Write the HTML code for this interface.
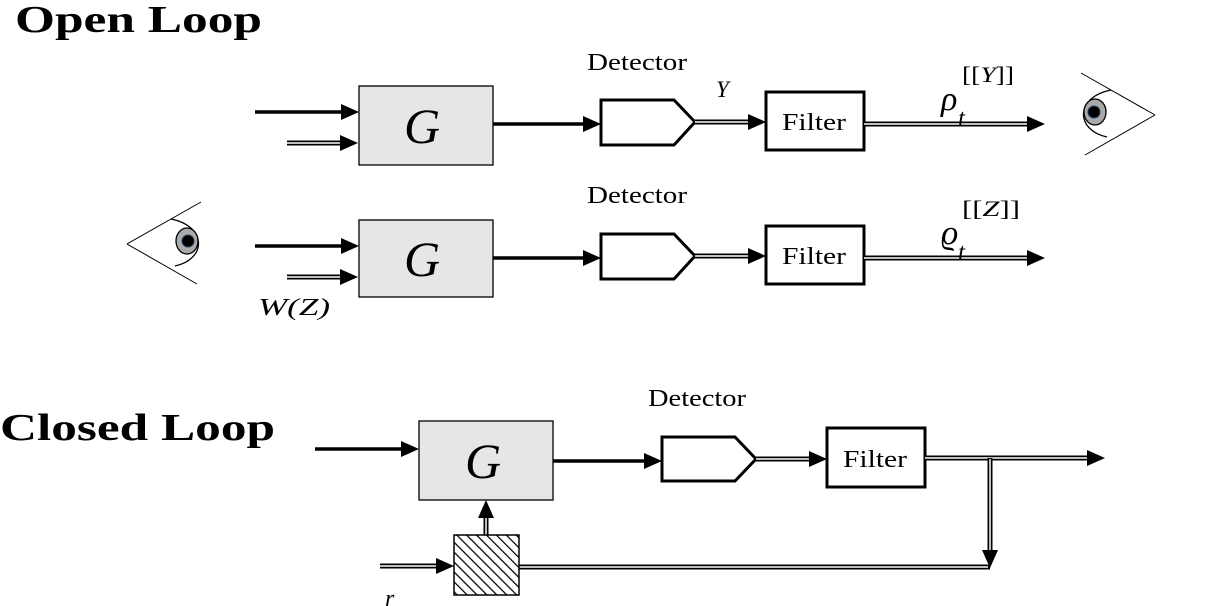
<!DOCTYPE html>
<html><head><meta charset="utf-8"><style>body{margin:0;background:#fff}svg{display:block}</style></head><body>
<svg width="1210" height="606" viewBox="0 0 1210 606" xmlns="http://www.w3.org/2000/svg" font-family="Liberation Serif, serif">
<defs>
<pattern id="h" width="7" height="7" patternUnits="userSpaceOnUse" patternTransform="rotate(-45)"><rect width="7" height="7" fill="#fff"/><line x1="0" y1="0" x2="0" y2="7" stroke="#000" stroke-width="2.5"/></pattern>
<g id="eye"><path d="M0,0 L-74,-42 M0,0 L-70,40" stroke="#000" stroke-width="1" fill="none"/><path d="M-44,-25 C-80,-18 -80,15 -48,22" stroke="#000" stroke-width="1.3" fill="none"/><ellipse cx="-60" cy="-3" rx="11" ry="13" fill="#aaa" stroke="#000" stroke-width="1.3"/><circle cx="-61" cy="-3" r="6" fill="#000" stroke="#246" stroke-width="1"/></g>
</defs>
<g font-weight="bold" font-size="38"><text x="15" y="32" textLength="247" lengthAdjust="spacingAndGlyphs">Open Loop</text><text x="0" y="440" textLength="275" lengthAdjust="spacingAndGlyphs">Closed Loop</text></g>
<g stroke="#000" fill="none">
<!-- row1 -->
<rect x="359" y="86" width="134" height="79" fill="#e6e6e6" stroke-width="1.3"/>
<line x1="255" y1="112" x2="345" y2="112" stroke-width="3.5"/><path d="M341,104 L359,112 L341,120z" fill="#000" stroke="none"/>
<line x1="287" y1="143" x2="350" y2="143" stroke-width="5"/><line x1="287" y1="143" x2="352" y2="143" stroke="#fff" stroke-width="1.5"/><path d="M340,135 L358,143 L340,151z" fill="#000" stroke="none"/>
<line x1="493" y1="124" x2="590" y2="124" stroke-width="3.5"/><path d="M583,116 L601,124 L583,132z" fill="#000" stroke="none"/>
<path d="M601,100 L674,100 L695,122 L674,145 L601,145z" stroke-width="3" fill="#fff"/>
<line x1="695" y1="122" x2="755" y2="122" stroke-width="5"/><line x1="695" y1="122" x2="757" y2="122" stroke="#fff" stroke-width="1.5"/><path d="M748,114 L766,122 L748,130z" fill="#000" stroke="none"/>
<rect x="766" y="92" width="98" height="58" stroke-width="3" fill="#fff"/>
<line x1="864" y1="124" x2="1035" y2="124" stroke-width="5"/><line x1="864" y1="124" x2="1036" y2="124" stroke="#fff" stroke-width="1.5"/><path d="M1027,116 L1045,124 L1027,132z" fill="#000" stroke="none"/>
<!-- row2 -->
<rect x="359" y="220" width="134" height="77" fill="#e6e6e6" stroke-width="1.3"/>
<line x1="255" y1="246" x2="345" y2="246" stroke-width="3.5"/><path d="M341,238 L359,246 L341,254z" fill="#000" stroke="none"/>
<line x1="287" y1="277" x2="350" y2="277" stroke-width="5"/><line x1="287" y1="277" x2="352" y2="277" stroke="#fff" stroke-width="1.5"/><path d="M340,269 L358,277 L340,285z" fill="#000" stroke="none"/>
<line x1="493" y1="258" x2="590" y2="258" stroke-width="3.5"/><path d="M583,250 L601,258 L583,266z" fill="#000" stroke="none"/>
<path d="M601,234 L674,234 L695,256 L674,279 L601,279z" stroke-width="3" fill="#fff"/>
<line x1="695" y1="256" x2="755" y2="256" stroke-width="5"/><line x1="695" y1="256" x2="757" y2="256" stroke="#fff" stroke-width="1.5"/><path d="M748,248 L766,256 L748,264z" fill="#000" stroke="none"/>
<rect x="766" y="226" width="98" height="58" stroke-width="3" fill="#fff"/>
<line x1="864" y1="258" x2="1035" y2="258" stroke-width="5"/><line x1="864" y1="258" x2="1036" y2="258" stroke="#fff" stroke-width="1.5"/><path d="M1027,250 L1045,258 L1027,266z" fill="#000" stroke="none"/>
<!-- closed -->
<rect x="419" y="421" width="134" height="79" fill="#e6e6e6" stroke-width="1.3"/>
<line x1="315" y1="449" x2="405" y2="449" stroke-width="3.5"/><path d="M401,441 L419,449 L401,457z" fill="#000" stroke="none"/>
<line x1="553" y1="461" x2="650" y2="461" stroke-width="3.5"/><path d="M644,453 L662,461 L644,469z" fill="#000" stroke="none"/>
<path d="M662,437 L735,437 L756,459 L735,481 L662,481z" stroke-width="3" fill="#fff"/>
<line x1="756" y1="459" x2="816" y2="459" stroke-width="5"/><line x1="756" y1="459" x2="818" y2="459" stroke="#fff" stroke-width="1.5"/><path d="M809,451 L827,459 L809,467z" fill="#000" stroke="none"/>
<rect x="827" y="428" width="98" height="59" stroke-width="3" fill="#fff"/>
<line x1="925" y1="458" x2="1095" y2="458" stroke-width="5"/><line x1="925" y1="458" x2="1097" y2="458" stroke="#fff" stroke-width="1.5"/><path d="M1087,450 L1105,458 L1087,466z" fill="#000" stroke="none"/>
<line x1="990" y1="458" x2="990" y2="558" stroke-width="5"/><line x1="990" y1="459" x2="990" y2="560" stroke="#fff" stroke-width="1.5"/><path d="M982,550 L990,568 L998,550z" fill="#000" stroke="none"/>
<line x1="519" y1="567" x2="990" y2="567" stroke-width="5"/><line x1="519" y1="567" x2="988" y2="567" stroke="#fff" stroke-width="1.5"/>
<line x1="380" y1="566" x2="445" y2="566" stroke-width="5"/><line x1="380" y1="566" x2="447" y2="566" stroke="#fff" stroke-width="1.5"/><path d="M436,558 L454,566 L436,574z" fill="#000" stroke="none"/>
<line x1="486" y1="535" x2="486" y2="510" stroke-width="5"/><line x1="486" y1="535" x2="486" y2="508" stroke="#fff" stroke-width="1.5"/><path d="M478,518 L486,500 L494,518z" fill="#000" stroke="none"/>
<rect x="454" y="535" width="65" height="60" fill="url(#h)" stroke-width="1.5"/>
</g>
<use href="#eye" transform="translate(1155,115)"/>
<use href="#eye" transform="translate(127,244) scale(-1,1)"/>
<g font-size="24"><text x="587" y="70" textLength="100" lengthAdjust="spacingAndGlyphs">Detector</text><text x="587" y="203" textLength="100" lengthAdjust="spacingAndGlyphs">Detector</text><text x="648" y="406" textLength="98" lengthAdjust="spacingAndGlyphs">Detector</text>
<text x="782" y="130" textLength="64" lengthAdjust="spacingAndGlyphs">Filter</text><text x="782" y="264" textLength="64" lengthAdjust="spacingAndGlyphs">Filter</text><text x="843" y="467" textLength="64" lengthAdjust="spacingAndGlyphs">Filter</text></g>
<g font-style="italic">
<text x="404" y="143" font-size="50">G</text><text x="404" y="276" font-size="50">G</text><text x="465" y="478" font-size="50">G</text>
<text x="716" y="97" font-size="23">Y</text>
<text x="258" y="315" font-size="24" textLength="72" lengthAdjust="spacingAndGlyphs">W(Z)</text>
<text x="385" y="606" font-size="24">r</text>
<text x="941" y="110" font-size="34">ρ</text><text x="958" y="126" font-size="25">t</text><text x="962" y="82" font-size="22" font-style="normal" textLength="52" lengthAdjust="spacingAndGlyphs">[[<tspan font-style="italic">Y</tspan>]]</text>
<text x="941" y="244" font-size="34">ϱ</text><text x="958" y="260" font-size="25">t</text><text x="962" y="216" font-size="22" font-style="normal" textLength="58" lengthAdjust="spacingAndGlyphs">[[<tspan font-style="italic">Z</tspan>]]</text>
</g>
</svg>
</body></html>
